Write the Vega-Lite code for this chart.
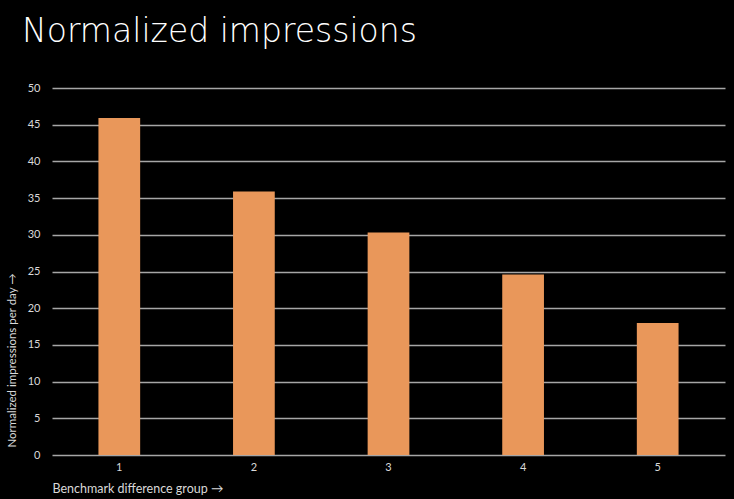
{
  "$schema": "https://vega.github.io/schema/vega-lite/v6.json",
  "width": 673,
  "height": 367,
  "autosize": {"type": "none"},
  "padding": {"left": 52, "top": 88, "right": 9, "bottom": 44},
  "background": "#000000",
  "title": {
    "text": "Normalized impressions",
    "anchor": "start",
    "frame": "group",
    "dx": -30,
    "offset": 7,
    "baseline": "alphabetic",
    "font": "DejaVu Sans",
    "fontWeight": 200,
    "fontSize": 33,
    "color": "#ffffff"
  },
  "data": {
    "values": [
      {"group": "1", "value": 45.9},
      {"group": "2", "value": 35.9},
      {"group": "3", "value": 30.3},
      {"group": "4", "value": 24.6},
      {"group": "5", "value": 18.0}
    ]
  },
  "config": {
    "view": {"stroke": null},
    "axis": {
      "labelFont": "Lato",
      "titleFont": "Lato",
      "labelColor": "#d9d9d9",
      "titleColor": "#d9d9d9",
      "titleFontWeight": "normal",
      "labelFontSize": 11,
      "titleFontSize": 11
    }
  },
  "mark": {"type": "bar", "color": "#E9975A"},
  "encoding": {
    "x": {
      "field": "group",
      "type": "ordinal",
      "scale": {"paddingInner": 0.69, "paddingOuter": 0.345},
      "axis": {
        "title": "Benchmark difference group →",
        "titleAnchor": "start",
        "titleAlign": "left",
        "titleFontSize": 12.5,
        "labelAngle": 0,
        "ticks": false,
        "domain": false,
        "labelPadding": 6,
        "titlePadding": 10
      }
    },
    "y": {
      "field": "value",
      "type": "quantitative",
      "scale": {"domain": [0, 50]},
      "axis": {
        "title": "Normalized impressions per day →",
        "titleAnchor": "start",
        "titleFontSize": 11.5,
        "titleY": 359,
        "values": [0, 5, 10, 15, 20, 25, 30, 35, 40, 45, 50],
        "ticks": false,
        "domain": false,
        "labelPadding": 12,
        "titlePadding": 10,
        "grid": true,
        "gridColor": "#a6a6a6",
        "gridWidth": 1.5
      }
    }
  }
}
